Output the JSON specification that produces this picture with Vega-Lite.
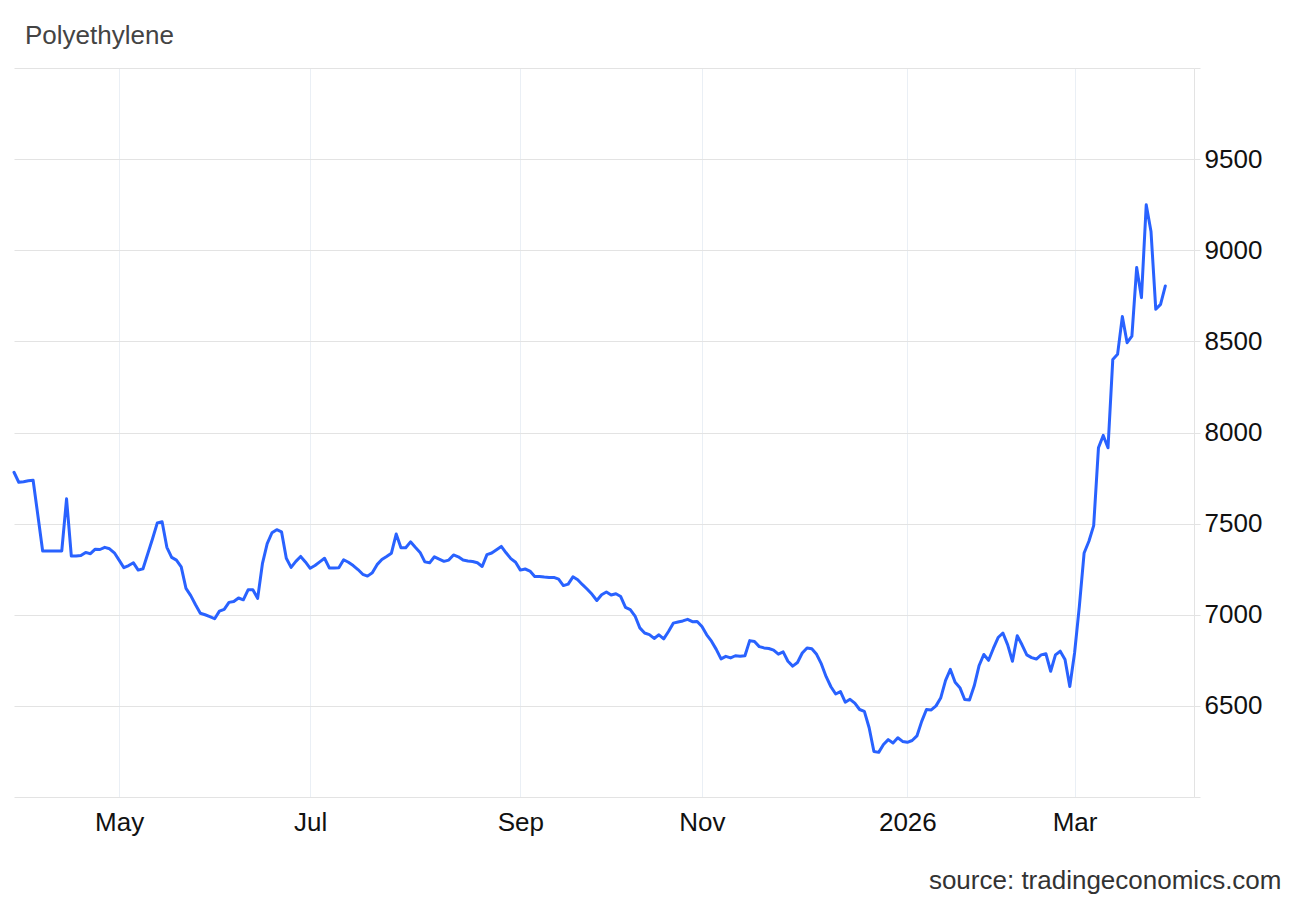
{
  "$schema": "https://vega.github.io/schema/vega-lite/v6.json",
  "width": 1180,
  "height": 729,
  "autosize": {"type": "none"},
  "padding": {"left": 14, "top": 68, "right": 106, "bottom": 104},
  "background": "white",
  "config": {"view": {"stroke": null}, "font": "Liberation Sans"},
  "title": {"text": "Polyethylene", "anchor": "start", "frame": "group", "orient": "top", "fontSize": 26, "font": "Liberation Sans", "fontWeight": "normal", "color": "#444444", "dx": 11, "dy": 27, "baseline": "alphabetic", "offset": 25},
  "data": {"values": [
    {"date":"2025-04-01","price":7782},{"date":"2025-04-02","price":7727},{"date":"2025-04-03","price":7730},{"date":"2025-04-04","price":7735},{"date":"2025-04-07","price":7738},{"date":"2025-04-08","price":7545},{"date":"2025-04-09","price":7350},{"date":"2025-04-10","price":7350},{"date":"2025-04-11","price":7350},{"date":"2025-04-14","price":7350},{"date":"2025-04-15","price":7350},{"date":"2025-04-16","price":7636},{"date":"2025-04-17","price":7322},{"date":"2025-04-18","price":7322},{"date":"2025-04-21","price":7325},{"date":"2025-04-22","price":7342},{"date":"2025-04-23","price":7335},{"date":"2025-04-24","price":7360},{"date":"2025-04-25","price":7358},{"date":"2025-04-28","price":7370},{"date":"2025-04-29","price":7362},{"date":"2025-04-30","price":7340},
    {"date":"2025-05-06","price":7300},{"date":"2025-05-07","price":7258},{"date":"2025-05-08","price":7270},{"date":"2025-05-09","price":7285},{"date":"2025-05-12","price":7245},{"date":"2025-05-13","price":7252},{"date":"2025-05-14","price":7335},{"date":"2025-05-15","price":7417},{"date":"2025-05-16","price":7504},{"date":"2025-05-19","price":7510},{"date":"2025-05-20","price":7370},{"date":"2025-05-21","price":7315},{"date":"2025-05-22","price":7300},{"date":"2025-05-23","price":7263},{"date":"2025-05-26","price":7145},{"date":"2025-05-27","price":7105},{"date":"2025-05-28","price":7055},{"date":"2025-05-29","price":7008},{"date":"2025-05-30","price":7000},
    {"date":"2025-06-02","price":6990},{"date":"2025-06-03","price":6978},{"date":"2025-06-04","price":7020},{"date":"2025-06-05","price":7030},{"date":"2025-06-06","price":7068},{"date":"2025-06-09","price":7073},{"date":"2025-06-10","price":7092},{"date":"2025-06-11","price":7082},{"date":"2025-06-12","price":7137},{"date":"2025-06-13","price":7137},{"date":"2025-06-16","price":7090},{"date":"2025-06-17","price":7280},{"date":"2025-06-18","price":7390},{"date":"2025-06-19","price":7450},{"date":"2025-06-20","price":7467},{"date":"2025-06-23","price":7455},{"date":"2025-06-24","price":7310},{"date":"2025-06-25","price":7260},{"date":"2025-06-26","price":7293},{"date":"2025-06-27","price":7320},{"date":"2025-06-30","price":7290},
    {"date":"2025-07-01","price":7255},{"date":"2025-07-02","price":7270},{"date":"2025-07-03","price":7290},{"date":"2025-07-04","price":7310},{"date":"2025-07-07","price":7257},{"date":"2025-07-08","price":7257},{"date":"2025-07-09","price":7258},{"date":"2025-07-10","price":7302},{"date":"2025-07-11","price":7288},{"date":"2025-07-14","price":7270},{"date":"2025-07-15","price":7248},{"date":"2025-07-16","price":7222},{"date":"2025-07-17","price":7212},{"date":"2025-07-18","price":7230},{"date":"2025-07-21","price":7275},{"date":"2025-07-22","price":7303},{"date":"2025-07-23","price":7320},{"date":"2025-07-24","price":7338},{"date":"2025-07-25","price":7443},{"date":"2025-07-28","price":7368},{"date":"2025-07-29","price":7368},{"date":"2025-07-30","price":7400},{"date":"2025-07-31","price":7370},
    {"date":"2025-08-01","price":7342},{"date":"2025-08-04","price":7290},{"date":"2025-08-05","price":7285},{"date":"2025-08-06","price":7318},{"date":"2025-08-07","price":7305},{"date":"2025-08-08","price":7293},{"date":"2025-08-11","price":7300},{"date":"2025-08-12","price":7328},{"date":"2025-08-13","price":7318},{"date":"2025-08-14","price":7300},{"date":"2025-08-15","price":7295},{"date":"2025-08-18","price":7292},{"date":"2025-08-19","price":7285},{"date":"2025-08-20","price":7265},{"date":"2025-08-21","price":7330},{"date":"2025-08-22","price":7339},{"date":"2025-08-25","price":7357},{"date":"2025-08-26","price":7375},{"date":"2025-08-27","price":7340},{"date":"2025-08-28","price":7308},{"date":"2025-08-29","price":7288},
    {"date":"2025-09-01","price":7245},{"date":"2025-09-02","price":7251},{"date":"2025-09-03","price":7240},{"date":"2025-09-04","price":7210},{"date":"2025-09-05","price":7210},{"date":"2025-09-08","price":7207},{"date":"2025-09-09","price":7205},{"date":"2025-09-10","price":7205},{"date":"2025-09-11","price":7195},{"date":"2025-09-12","price":7160},{"date":"2025-09-15","price":7168},{"date":"2025-09-16","price":7208},{"date":"2025-09-17","price":7192},{"date":"2025-09-18","price":7165},{"date":"2025-09-19","price":7140},{"date":"2025-09-22","price":7112},{"date":"2025-09-23","price":7078},{"date":"2025-09-24","price":7110},{"date":"2025-09-25","price":7125},{"date":"2025-09-26","price":7108},{"date":"2025-09-29","price":7115},{"date":"2025-09-30","price":7100},
    {"date":"2025-10-10","price":7040},{"date":"2025-10-13","price":7028},{"date":"2025-10-14","price":6993},{"date":"2025-10-15","price":6928},{"date":"2025-10-16","price":6900},{"date":"2025-10-17","price":6891},{"date":"2025-10-20","price":6870},{"date":"2025-10-21","price":6890},{"date":"2025-10-22","price":6868},{"date":"2025-10-23","price":6908},{"date":"2025-10-24","price":6954},{"date":"2025-10-27","price":6960},{"date":"2025-10-28","price":6966},{"date":"2025-10-29","price":6975},{"date":"2025-10-30","price":6962},{"date":"2025-10-31","price":6963},
    {"date":"2025-11-03","price":6935},{"date":"2025-11-04","price":6890},{"date":"2025-11-05","price":6855},{"date":"2025-11-06","price":6810},{"date":"2025-11-07","price":6758},{"date":"2025-11-10","price":6772},{"date":"2025-11-11","price":6763},{"date":"2025-11-12","price":6775},{"date":"2025-11-13","price":6772},{"date":"2025-11-14","price":6775},{"date":"2025-11-17","price":6858},{"date":"2025-11-18","price":6853},{"date":"2025-11-19","price":6825},{"date":"2025-11-20","price":6818},{"date":"2025-11-21","price":6815},{"date":"2025-11-24","price":6806},{"date":"2025-11-25","price":6784},{"date":"2025-11-26","price":6796},{"date":"2025-11-27","price":6745},{"date":"2025-11-28","price":6718},
    {"date":"2025-12-01","price":6738},{"date":"2025-12-02","price":6790},{"date":"2025-12-03","price":6818},{"date":"2025-12-04","price":6813},{"date":"2025-12-05","price":6783},{"date":"2025-12-08","price":6730},{"date":"2025-12-09","price":6660},{"date":"2025-12-10","price":6605},{"date":"2025-12-11","price":6565},{"date":"2025-12-12","price":6578},{"date":"2025-12-15","price":6520},{"date":"2025-12-16","price":6536},{"date":"2025-12-17","price":6515},{"date":"2025-12-18","price":6480},{"date":"2025-12-19","price":6470},{"date":"2025-12-22","price":6380},{"date":"2025-12-23","price":6250},{"date":"2025-12-24","price":6245},{"date":"2025-12-25","price":6288},{"date":"2025-12-26","price":6315},{"date":"2025-12-29","price":6296},{"date":"2025-12-30","price":6325},{"date":"2025-12-31","price":6305},
    {"date":"2026-01-05","price":6300},{"date":"2026-01-06","price":6310},{"date":"2026-01-07","price":6335},{"date":"2026-01-08","price":6415},{"date":"2026-01-09","price":6480},{"date":"2026-01-12","price":6478},{"date":"2026-01-13","price":6500},{"date":"2026-01-14","price":6545},{"date":"2026-01-15","price":6640},{"date":"2026-01-16","price":6700},{"date":"2026-01-19","price":6630},{"date":"2026-01-20","price":6600},{"date":"2026-01-21","price":6535},{"date":"2026-01-22","price":6532},{"date":"2026-01-23","price":6610},{"date":"2026-01-26","price":6720},{"date":"2026-01-27","price":6782},{"date":"2026-01-28","price":6750},{"date":"2026-01-29","price":6815},{"date":"2026-01-30","price":6875},
    {"date":"2026-02-02","price":6900},{"date":"2026-02-03","price":6835},{"date":"2026-02-04","price":6745},{"date":"2026-02-05","price":6885},{"date":"2026-02-06","price":6835},{"date":"2026-02-09","price":6780},{"date":"2026-02-10","price":6765},{"date":"2026-02-11","price":6757},{"date":"2026-02-12","price":6780},{"date":"2026-02-13","price":6786},{"date":"2026-02-23","price":6690},{"date":"2026-02-24","price":6780},{"date":"2026-02-25","price":6800},{"date":"2026-02-26","price":6755},{"date":"2026-02-27","price":6606},
    {"date":"2026-03-02","price":6790},{"date":"2026-03-03","price":7046},{"date":"2026-03-04","price":7339},{"date":"2026-03-05","price":7403},{"date":"2026-03-06","price":7489},{"date":"2026-03-09","price":7916},{"date":"2026-03-10","price":7984},{"date":"2026-03-11","price":7916},{"date":"2026-03-12","price":8401},{"date":"2026-03-13","price":8429},{"date":"2026-03-16","price":8636},{"date":"2026-03-17","price":8493},{"date":"2026-03-18","price":8529},{"date":"2026-03-19","price":8905},{"date":"2026-03-20","price":8740},{"date":"2026-03-23","price":9249},{"date":"2026-03-24","price":9103},{"date":"2026-03-25","price":8676},{"date":"2026-03-26","price":8703},{"date":"2026-03-27","price":8804}
  ]},
  "mark": {"type": "line", "color": "#2962ff", "strokeWidth": 3, "strokeJoin": "round", "strokeCap": "round"},
  "encoding": {
    "x": {
      "field": "date", "type": "ordinal",
      "scale": {"type": "point", "padding": 0, "domain": {"unionWith": ["2026-03-30", "2026-03-31", "2026-04-01", "2026-04-02", "2026-04-03", "2026-04-06"]}},
      "axis": {
        "values": ["2025-05-06", "2025-07-01", "2025-09-01", "2025-11-03", "2026-01-05", "2026-03-02"],
        "labelExpr": "utcmonth(toDate(datum.value)) == 0 ? utcFormat(toDate(datum.value), '%Y') : utcFormat(toDate(datum.value), '%b')",
        "grid": true, "gridColor": "#eaeff5", "gridWidth": 1,
        "domain": false, "ticks": false, "tickSize": 0,
        "labelAngle": 0, "labelFontSize": 26, "labelColor": "#111111", "labelPadding": 12, "labelFont": "Liberation Sans",
        "title": "source: tradingeconomics.com", "titleX": 1267, "titleY": 91, "titleAlign": "right", "titleBaseline": "alphabetic",
        "titleFontSize": 26, "titleFontWeight": "normal", "titleColor": "#333333", "titleFont": "Liberation Sans"
      }
    },
    "y": {
      "field": "price", "type": "quantitative",
      "scale": {"domain": [6000, 10000], "nice": false, "zero": false},
      "axis": {
        "orient": "right", "title": null,
        "values": [6000, 6500, 7000, 7500, 8000, 8500, 9000, 9500, 10000],
        "labelExpr": "datum.value == 6000 || datum.value == 10000 ? '' : format(datum.value, 'd')",
        "grid": true, "gridColor": "#e3e3e3", "gridWidth": 1,
        "domain": true, "domainColor": "#e3e3e3", "domainWidth": 1,
        "ticks": true, "tickColor": "#e3e3e3", "tickSize": 6,
        "labelPadding": 4, "labelFontSize": 26, "labelColor": "#111111", "labelFont": "Liberation Sans"
      }
    }
  }
}
